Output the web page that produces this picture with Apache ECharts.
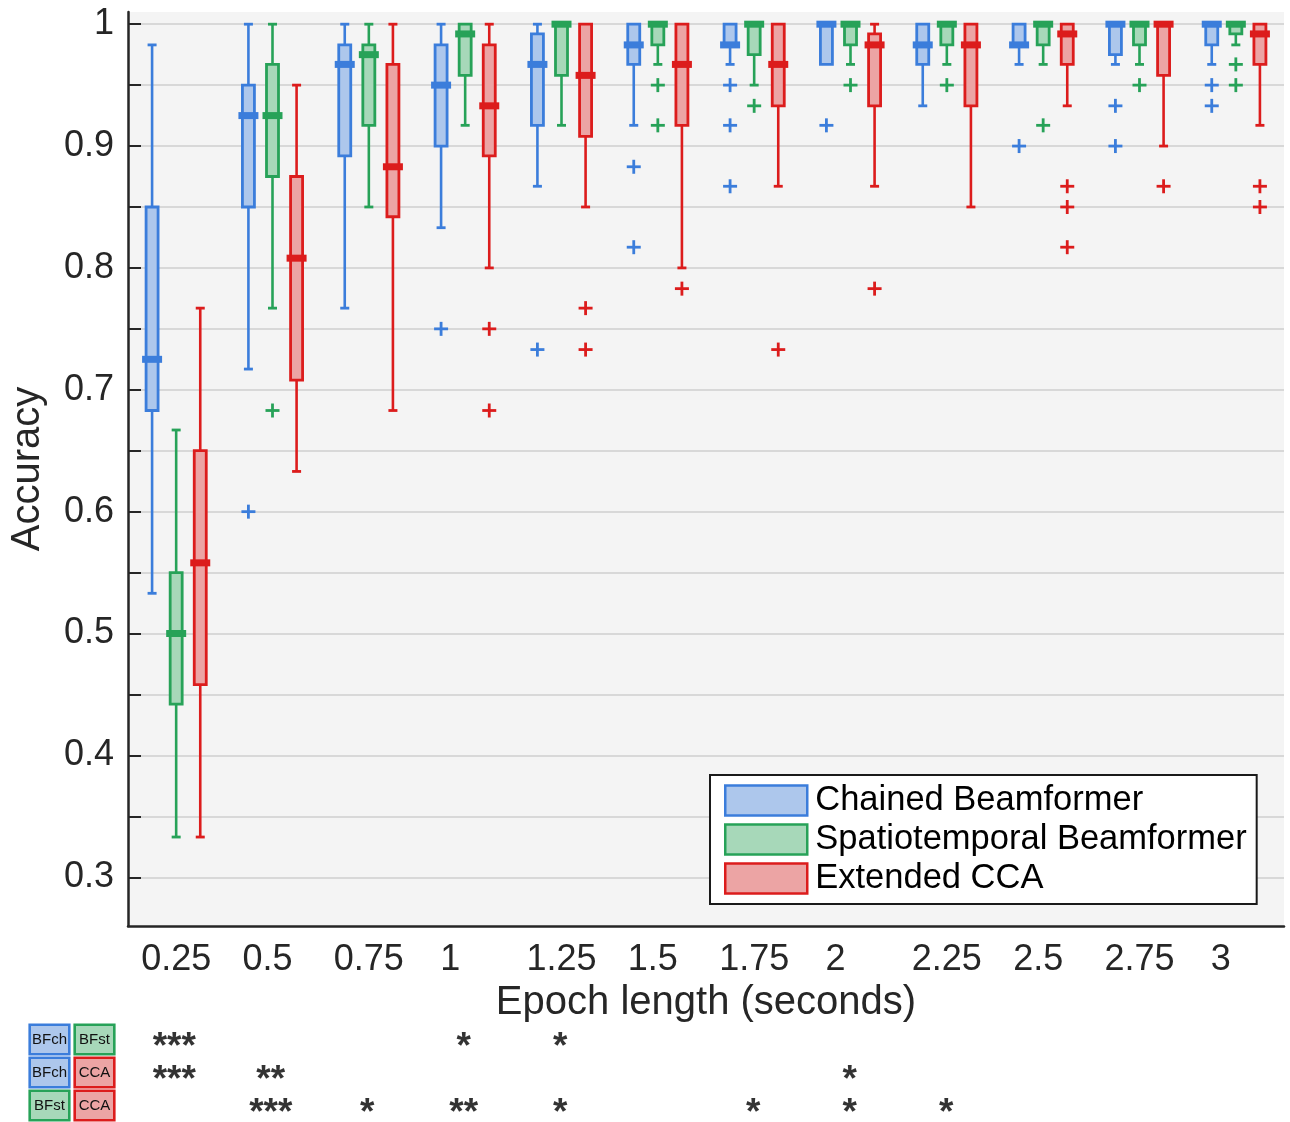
<!DOCTYPE html>
<html>
<head>
    <meta charset="utf-8">
    <title>Accuracy vs epoch length</title>
    <style>
        html, body { margin: 0; padding: 0; background: #fff; }
        #container { width: 1290px; height: 1122px; }
    </style>
</head>
<body>
<div id="container"></div>
<script src="https://cdn.jsdelivr.net/npm/echarts@6/dist/echarts.min.js"></script>
<script>
    // epoch lengths (seconds)
    var categories = ['0.25', '0.5', '0.75', '1', '1.25', '1.5', '1.75', '2', '2.25', '2.5', '2.75', '3'];

    // box stats per category: [low whisker, q1, median, q3, high whisker]
    var chainedBoxes = [
        [0.533, 0.683, 0.725, 0.85, 0.983],
        [0.717, 0.85, 0.925, 0.95, 1.0],
        [0.767, 0.892, 0.967, 0.983, 1.0],
        [0.833, 0.9, 0.95, 0.983, 1.0],
        [0.867, 0.917, 0.967, 0.992, 1.0],
        [0.917, 0.967, 0.983, 1.0, 1.0],
        [0.967, 0.983, 0.983, 1.0, 1.0],
        [0.967, 0.967, 1.0, 1.0, 1.0],
        [0.933, 0.967, 0.983, 1.0, 1.0],
        [0.967, 0.983, 0.983, 1.0, 1.0],
        [0.967, 0.975, 1.0, 1.0, 1.0],
        [0.967, 0.983, 1.0, 1.0, 1.0]
    ];
    var spatioBoxes = [
        [0.333, 0.442, 0.5, 0.55, 0.667],
        [0.767, 0.875, 0.925, 0.967, 1.0],
        [0.85, 0.917, 0.975, 0.983, 1.0],
        [0.917, 0.958, 0.992, 1.0, 1.0],
        [0.917, 0.958, 1.0, 1.0, 1.0],
        [0.967, 0.983, 1.0, 1.0, 1.0],
        [0.95, 0.975, 1.0, 1.0, 1.0],
        [0.967, 0.983, 1.0, 1.0, 1.0],
        [0.967, 0.983, 1.0, 1.0, 1.0],
        [0.967, 0.983, 1.0, 1.0, 1.0],
        [0.967, 0.983, 1.0, 1.0, 1.0],
        [0.983, 0.992, 1.0, 1.0, 1.0]
    ];
    var ccaBoxes = [
        [0.333, 0.458, 0.558, 0.65, 0.767],
        [0.633, 0.708, 0.808, 0.875, 0.95],
        [0.683, 0.842, 0.883, 0.967, 1.0],
        [0.8, 0.892, 0.933, 0.983, 1.0],
        [0.85, 0.908, 0.958, 1.0, 1.0],
        [0.8, 0.917, 0.967, 1.0, 1.0],
        [0.867, 0.933, 0.967, 1.0, 1.0],
        [0.867, 0.933, 0.983, 0.992, 1.0],
        [0.85, 0.933, 0.983, 1.0, 1.0],
        [0.933, 0.967, 0.992, 1.0, 1.0],
        [0.9, 0.958, 1.0, 1.0, 1.0],
        [0.917, 0.967, 0.992, 1.0, 1.0]
    ];

    // outliers per category
    var chainedOutliers = [[], [0.6], [], [0.75], [0.733], [0.883, 0.817], [0.95, 0.917, 0.867], [0.917], [], [0.9], [0.933, 0.9], [0.95, 0.933]];
    var spatioOutliers = [[], [0.683], [], [], [], [0.95, 0.917], [0.933], [0.95], [0.95], [0.917], [0.95], [0.967, 0.95]];
    var ccaOutliers = [[], [], [], [0.75, 0.683], [0.767, 0.733], [0.783], [0.733], [0.783], [], [0.867, 0.85, 0.817], [0.867], [0.867, 0.85]];

    // y axis ticks / labels
    var yTickValues = [0.3, 0.35, 0.4, 0.45, 0.5, 0.55, 0.6, 0.65, 0.7, 0.75, 0.8, 0.85, 0.9, 0.95, 1.0];
    var yLabelValues = [0.3, 0.4, 0.5, 0.6, 0.7, 0.8, 0.9, 1.0];

    // significance table (rows top to bottom): which pair is compared
    var sigFirst = ['BFch', 'BFch', 'BFst'];
    var sigSecond = ['BFst', 'CCA', 'CCA'];
    var sigChainedSpatio = ['***', '', '', '*', '*', '', '', '', '', '', '', ''];
    var sigChainedCca = ['***', '**', '', '', '', '', '', '*', '', '', '', ''];
    var sigSpatioCca = ['', '***', '*', '**', '*', '', '*', '*', '*', '', '', ''];

    var names = ['Chained Beamformer', 'Spatiotemporal Beamformer', 'Extended CCA'];
    var strokes = ['#3b7ddb', '#27a258', '#dc1c1c'];
    var fills = ['#adc7ec', '#a7d8b9', '#eca4a4'];
    var offsets = [-0.25, 0, 0.25];
    var FONT = '"Liberation Sans", Arial, Helvetica, sans-serif';

    function boxRender(g) {
        return function (params, api) {
            var cat = api.value(0);
            var bw = api.size([1, 0])[0];
            var x = api.coord([cat, 0])[0] + offsets[g] * bw;
            var yLow = api.coord([cat, api.value(1)])[1];
            var yQ1 = api.coord([cat, api.value(2)])[1];
            var yMed = api.coord([cat, api.value(3)])[1];
            var yQ3 = api.coord([cat, api.value(4)])[1];
            var yHigh = api.coord([cat, api.value(5)])[1];
            var line = {stroke: strokes[g], lineWidth: 2.6};
            var cap = {stroke: strokes[g], lineWidth: 2.8};
            var children = [];
            if (yHigh < yQ3) {
                children.push({type: 'line', shape: {x1: x, y1: yQ3, x2: x, y2: yHigh}, style: line});
                children.push({type: 'line', shape: {x1: x - 4.5, y1: yHigh, x2: x + 4.5, y2: yHigh}, style: cap});
            }
            if (yLow > yQ1) {
                children.push({type: 'line', shape: {x1: x, y1: yQ1, x2: x, y2: yLow}, style: line});
                children.push({type: 'line', shape: {x1: x - 4.5, y1: yLow, x2: x + 4.5, y2: yLow}, style: cap});
            }
            children.push({
                type: 'rect',
                shape: {x: x - 6, y: yQ3, width: 12, height: Math.max(yQ1 - yQ3, 0.5)},
                style: {fill: fills[g], stroke: strokes[g], lineWidth: 2.8}
            });
            children.push({
                type: 'rect',
                shape: {x: x - 10, y: yMed - 3.5, width: 20, height: 7},
                style: {fill: strokes[g]}
            });
            return {type: 'group', children: children};
        };
    }

    function outlierRender(g) {
        return function (params, api) {
            var cat = api.value(0);
            var bw = api.size([1, 0])[0];
            var p = api.coord([cat, api.value(1)]);
            var x = p[0] + offsets[g] * bw, y = p[1];
            var st = {stroke: strokes[g], lineWidth: 2.8};
            return {
                type: 'group',
                children: [
                    {type: 'line', shape: {x1: x - 7, y1: y, x2: x + 7, y2: y}, style: st},
                    {type: 'line', shape: {x1: x, y1: y - 7, x2: x, y2: y + 7}, style: st}
                ]
            };
        };
    }

    var boxSets = [chainedBoxes, spatioBoxes, ccaBoxes];
    var outlierSets = [chainedOutliers, spatioOutliers, ccaOutliers];
    var series = [];

    for (var g = 0; g < 3; g++) {
        series.push({
            name: names[g],
            type: 'custom',
            xAxisIndex: 0,
            yAxisIndex: 0,
            renderItem: boxRender(g),
            encode: {x: 0, y: [1, 2, 3, 4, 5]},
            itemStyle: {color: fills[g], borderColor: strokes[g]},
            data: boxSets[g].map(function (b, i) { return [i].concat(b); }),
            z: 3
        });
        var outs = [];
        outlierSets[g].forEach(function (list, i) {
            list.forEach(function (v) { outs.push([i, v]); });
        });
        series.push({
            name: names[g],
            type: 'custom',
            xAxisIndex: 0,
            yAxisIndex: 0,
            renderItem: outlierRender(g),
            encode: {x: 0, y: 1},
            data: outs,
            z: 3
        });
    }

    var sigSets = [sigChainedSpatio, sigChainedCca, sigSpatioCca];
    var sigData = [];
    sigSets.forEach(function (row, r) {
        row.forEach(function (s, i) {
            if (s) sigData.push({value: [i, r], name: s});
        });
    });
    series.push({
        type: 'scatter',
        xAxisIndex: 1,
        yAxisIndex: 1,
        symbolSize: 1,
        itemStyle: {color: 'rgba(0,0,0,0)'},
        silent: true,
        label: {
            show: true,
            position: 'inside',
            formatter: function (p) { return p.name; },
            color: '#000',
            fontFamily: FONT,
            fontWeight: 'bold',
            fontSize: 37,
            offset: [0, 8]
        },
        data: sigData
    });

    function tagStyle(g) {
        return {
            backgroundColor: fills[g],
            borderColor: strokes[g],
            borderWidth: 2.6,
            width: 37,
            height: 27,
            lineHeight: 27,
            align: 'center',
            fontSize: 15,
            color: '#111',
            fontFamily: FONT
        };
    }
    var tagKey = {BFch: 'ch', BFst: 'st', CCA: 'cca'};
    var tagRich = {ch: tagStyle(0), st: tagStyle(1), cca: tagStyle(2)};
    function tagFormatter(v) { return '{' + tagKey[v] + '|' + v + '}'; }

    var myChart = echarts.init(document.getElementById('container'));

    var option = {
        backgroundColor: '#ffffff',
        animation: false,
        grid: [{
            left: 126,
            right: 6,
            top: 12,
            bottom: 196,
            show: true,
            backgroundColor: '#f4f4f4',
            borderWidth: 0
        }, {
            left: 126,
            right: 6,
            top: 1023,
            height: 104
        }],
        legend: {
            orient: 'vertical',
            left: 710,
            top: 775,
            padding: [8, 10, 8, 14],
            itemGap: 4,
            itemWidth: 82,
            itemHeight: 30,
            backgroundColor: '#ffffff',
            borderColor: '#1a1a1a',
            borderWidth: 2,
            selectedMode: false,
            textStyle: {fontSize: 34.5, fontFamily: FONT, color: '#000', lineHeight: 30, padding: [0, 0, 0, 3]},
            data: names.map(function (n, i) {
                return {name: n, icon: 'rect', itemStyle: {color: fills[i], borderColor: strokes[i], borderWidth: 2.5}};
            })
        },
        xAxis: [{
            type: 'category',
            gridIndex: 0,
            data: categories,
            name: 'Epoch length (seconds)',
            nameLocation: 'middle',
            nameGap: 54,
            nameTextStyle: {fontSize: 40, fontFamily: FONT, color: '#262626'},
            axisLine: {lineStyle: {color: '#262626', width: 2.5}},
            axisTick: {inside: true, alignWithLabel: true, length: 13, lineStyle: {color: '#262626', width: 2}},
            axisLabel: {
                fontSize: 36,
                fontFamily: FONT,
                color: '#262626',
                margin: 16,
                formatter: function (v) {
                    var s = v;
                    while (s.length < 4) s += '\u00a0';
                    return s;
                }
            },
            splitLine: {show: false}
        }, {
            type: 'category',
            gridIndex: 1,
            data: categories,
            axisLine: {show: false},
            axisTick: {show: false},
            axisLabel: {show: false},
            splitLine: {show: false}
        }],
        yAxis: [{
            type: 'value',
            gridIndex: 0,
            min: 0.26,
            max: 1.01,
            name: 'Accuracy',
            nameLocation: 'middle',
            nameGap: 80,
            nameTextStyle: {fontSize: 40, fontFamily: FONT, color: '#262626'},
            axisLine: {show: true, lineStyle: {color: '#262626', width: 2.5}},
            axisTick: {show: true, inside: true, length: 13, customValues: yTickValues, lineStyle: {color: '#262626', width: 2}},
            axisLabel: {
                fontSize: 36,
                fontFamily: FONT,
                color: '#262626',
                margin: 14,
                customValues: yLabelValues,
                formatter: function (v) { return Math.abs(v - 1) < 1e-9 ? '1' : v.toFixed(1); }
            },
            splitLine: {show: true, lineStyle: {color: '#d8d8d8', width: 2}}
        }, {
            // second method of each compared pair
            type: 'category',
            gridIndex: 1,
            position: 'left',
            data: sigSecond,
            inverse: true,
            axisLine: {show: false},
            axisTick: {show: false},
            axisLabel: {margin: 13, formatter: tagFormatter, rich: tagRich},
            splitLine: {show: false}
        }, {
            // first method of each compared pair
            type: 'category',
            gridIndex: 1,
            position: 'left',
            offset: 0,
            data: sigFirst,
            inverse: true,
            axisLine: {show: false},
            axisTick: {show: false},
            axisLabel: {margin: 58, formatter: tagFormatter, rich: tagRich},
            splitLine: {show: false}
        }],
        series: series
    };

    myChart.setOption(option);
</script>
</body>
</html>
